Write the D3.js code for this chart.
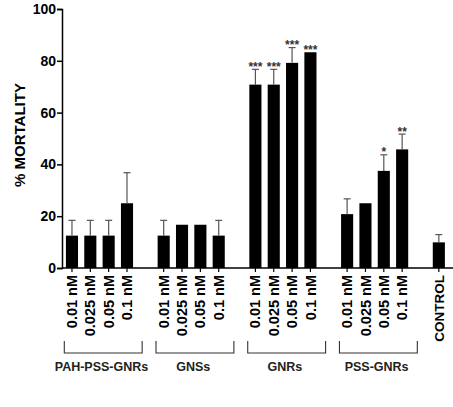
<!DOCTYPE html>
<html>
<head>
<meta charset="utf-8">
<script src="https://cdn.jsdelivr.net/npm/d3@7"></script>
<style>
  body { margin: 0; background: #fff; }
  svg text { font-family: "Liberation Sans", Arial, sans-serif; }
</style>
</head>
<body>
<div id="chartDiv"></div>
<script>
// data
const groups = ["PAH-PSS-GNRs", "GNSs", "GNRs", "PSS-GNRs"];
const concLabels = ["0.01 nM", "0.025 nM", "0.05 nM", "0.1 nM"];
const means = [
  [12.5, 12.5, 12.5, 25],
  [12.5, 16.7, 16.7, 12.5],
  [70.8, 70.8, 79.2, 83.3],
  [20.8, 25, 37.5, 45.8]
];
const errs = [
  [5.9, 5.9, 5.9, 11.8],
  [5.9, 0, 0, 5.9],
  [5.9, 5.9, 5.9, 0],
  [5.9, 0, 6.2, 5.9]
];
const stars = [
  ["", "", "", ""],
  ["", "", "", ""],
  ["***", "***", "***", "***"],
  ["", "", "*", "**"]
];
const controlLabel = "CONTROL";
const controlMean = 9.9;
const controlErr = 3;
const yTicks = [0, 20, 40, 60, 80, 100];

// settings
const W = 453, H = 407;
const m = { t: 9, l: 62, b: 139 };
const plotBottom = H - m.b;

// flatten into slots: 4 bars per group, then an empty slot, then control
let bars = [];
let slots = [];
groups.forEach((g, gi) => {
  concLabels.forEach((c, ci) => {
    const key = g + "|" + c;
    slots.push(key);
    bars.push({ key, label: c, group: g, v: means[gi][ci], e: errs[gi][ci], s: stars[gi][ci] });
  });
  slots.push("gap" + gi);
});
slots.push(controlLabel);
bars.push({ key: controlLabel, label: controlLabel, group: null, v: controlMean, e: controlErr, s: "" });

const x = d3.scaleBand().domain(slots).range([m.l + 0.8, 448]).padding(0);
const bw = x.bandwidth() * 0.66;
const cx = k => x(k) + x.bandwidth() / 2;

const y = d3.scaleLinear().domain([0, 100]).range([plotBottom, m.t]);

const svg = d3.select("#chartDiv").append("svg")
  .attr("width", W).attr("height", H);

// bars
svg.append("g").selectAll("rect")
  .data(bars).join("rect")
  .attr("x", d => cx(d.key) - bw / 2)
  .attr("y", d => y(d.v))
  .attr("width", bw)
  .attr("height", d => y(0) - y(d.v))
  .attr("fill", "#000");

// error bars (upper only)
const eb = svg.append("g").attr("stroke", "#555").attr("stroke-width", 1.2)
  .selectAll("g").data(bars.filter(d => d.e > 0)).join("g");
eb.append("line")
  .attr("x1", d => cx(d.key)).attr("x2", d => cx(d.key))
  .attr("y1", d => y(d.v)).attr("y2", d => y(d.v + d.e));
eb.append("line")
  .attr("x1", d => cx(d.key) - 3.5).attr("x2", d => cx(d.key) + 3.5)
  .attr("y1", d => y(d.v + d.e)).attr("y2", d => y(d.v + d.e));

// significance stars
svg.append("g").selectAll("text")
  .data(bars.filter(d => d.s)).join("text")
  .attr("x", d => cx(d.key))
  .attr("y", d => y(d.v + d.e) + 1.5)
  .attr("text-anchor", "middle")
  .attr("font-size", "12px")
  .attr("font-weight", "bold")
  .attr("fill", "#333")
  .text(d => d.s);

// y axis
const yAxis = svg.append("g")
  .attr("transform", `translate(${m.l},0)`)
  .call(d3.axisLeft(y).tickValues(yTicks).tickSize(5).tickPadding(1));
yAxis.select(".domain").attr("stroke-width", 1.5);
yAxis.selectAll(".tick line").attr("stroke-width", 1.5);
yAxis.selectAll("text")
  .attr("font-size", "14px").attr("font-weight", "bold")
  .attr("font-family", "Liberation Sans, Arial, sans-serif");

// x axis line + ticks
svg.append("line")
  .attr("x1", m.l).attr("x2", W)
  .attr("y1", plotBottom).attr("y2", plotBottom)
  .attr("stroke", "#000").attr("stroke-width", 1.5);
svg.append("g").selectAll("line")
  .data(bars).join("line")
  .attr("x1", d => cx(d.key)).attr("x2", d => cx(d.key))
  .attr("y1", plotBottom).attr("y2", plotBottom + 4)
  .attr("stroke", "#000").attr("stroke-width", 1.2);

// rotated x labels
svg.append("g").selectAll("text")
  .data(bars).join("text")
  .attr("transform", d => `translate(${cx(d.key)},${plotBottom + 7}) rotate(-90)`)
  .attr("text-anchor", "end")
  .attr("dy", "0.35em")
  .attr("font-size", d => d.group ? "14.5px" : "13.5px")
  .attr("font-weight", "bold")
  .text(d => d.label);

// group brackets
const brTop = 341, brBot = 353;
const groupLeft = g => x(g + "|" + concLabels[0]);
const groupRight = g => x(g + "|" + concLabels[concLabels.length - 1]) + x.bandwidth();
svg.append("g").attr("fill", "none").attr("stroke", "#333").attr("stroke-width", 1.1)
  .selectAll("path").data(groups).join("path")
  .attr("d", g => `M${groupLeft(g) + 1.5},${brTop}V${brBot}H${groupRight(g) + 6}V${brTop}`);

svg.append("g").selectAll("text")
  .data(groups).join("text")
  .attr("x", g => (groupLeft(g) + groupRight(g)) / 2 + 2)
  .attr("y", 371)
  .attr("text-anchor", "middle")
  .attr("font-family", "Open Sans, sans-serif")
  .attr("font-size", "12.5px")
  .attr("font-weight", "bold")
  .attr("fill", "#222")
  .text(g => g);

// y title
svg.append("text")
  .attr("transform", `translate(20,135) rotate(-90)`)
  .attr("text-anchor", "middle")
  .attr("dy", "0.35em")
  .attr("font-size", "15px")
  .attr("font-weight", "bold")
  .text("% MORTALITY");
</script>
</body>
</html>
